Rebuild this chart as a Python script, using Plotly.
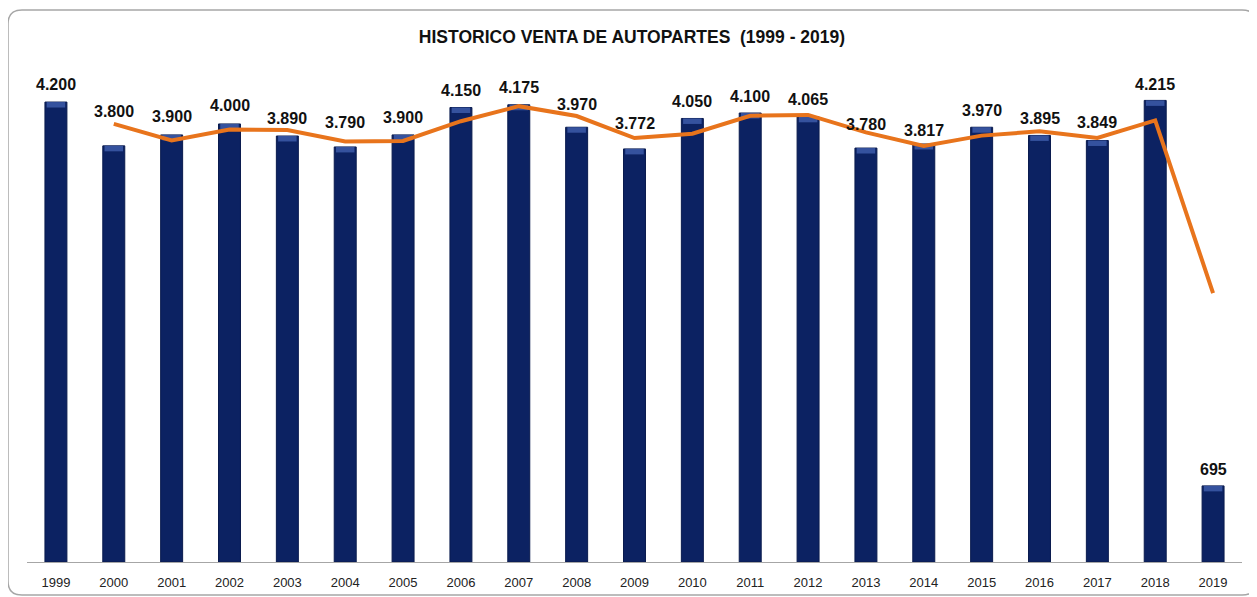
import plotly.graph_objects as go

years = ["1999", "2000", "2001", "2002", "2003", "2004", "2005", "2006", "2007", "2008",
         "2009", "2010", "2011", "2012", "2013", "2014", "2015", "2016", "2017", "2018", "2019"]
ventas = [4200, 3800, 3900, 4000, 3890, 3790, 3900, 4150, 4175, 3970,
          3772, 4050, 4100, 4065, 3780, 3817, 3970, 3895, 3849, 4215, 695]
# 2-period moving average trendline (as drawn in the chart), from 2000 on
trend_vals = [4000, 3850, 3950, 3945, 3840, 3845, 4025, 4162.5, 4072.5, 3871,
              3911, 4075, 4082.5, 3922.5, 3798.5, 3893.5, 3932.5, 3872, 4032, 2455]
label_text = ["4.200", "3.800", "3.900", "4.000", "3.890", "3.790", "3.900", "4.150", "4.175", "3.970",
              "3.772", "4.050", "4.100", "4.065", "3.780", "3.817", "3.970", "3.895", "3.849", "4.215", "695"]
label_shift = [18, 34, 18, 18, 18, 24, 17, 17, 17, 23, 25, 17, 17, 17, 24, 14, 17, 17, 18, 16, 16]

xpos = list(range(len(years)))
trend_x = xpos[1:]

BEVEL = 50  # height of the lighter top bevel, in data units

fig = go.Figure()
fig.add_trace(go.Bar(
    x=xpos, y=ventas, width=0.38,
    marker=dict(color="#0C2262", line=dict(color="#0A1B4E", width=1)),
    hovertext=years, showlegend=False,
))
fig.add_trace(go.Bar(
    x=xpos, y=[BEVEL] * len(ventas), base=[v - BEVEL for v in ventas], width=0.32,
    marker=dict(color="#35529E", line=dict(width=0)),
    hoverinfo="skip", showlegend=False,
))
fig.add_trace(go.Scatter(
    x=trend_x, y=trend_vals, mode="lines",
    line=dict(color="#E8741C", width=4), showlegend=False,
))

for xi, v, t, s in zip(xpos, ventas, label_text, label_shift):
    fig.add_annotation(x=xi, y=v, xref="x", yref="y", text="<b>%s</b>" % t, showarrow=False,
                       yshift=s, yanchor="middle",
                       font=dict(family="Liberation Sans, Arial", size=16, color="#111111"))

# page is offset by 8px (body margin); coordinates below compensate
W, H = 1257, 597
OFF = 8
l, r, t, b = 27 - OFF, 23, 60 - OFF, H - (562 - OFF)
pw, ph = W - l - r, H - t - b
def px(xp):
    return (xp - OFF - l) / pw
def py(yp):
    return 1 - (yp - OFF - t) / ph
x0, x1, y0, y1, rad = 8, 1256, 10, 595, 14
path = (f"M {px(x0+rad):.5f},{py(y0):.5f} L {px(x1-rad):.5f},{py(y0):.5f} Q {px(x1):.5f},{py(y0):.5f} {px(x1):.5f},{py(y0+rad):.5f} "
        f"L {px(x1):.5f},{py(y1-rad):.5f} Q {px(x1):.5f},{py(y1):.5f} {px(x1-rad):.5f},{py(y1):.5f} "
        f"L {px(x0+rad):.5f},{py(y1):.5f} Q {px(x0):.5f},{py(y1):.5f} {px(x0):.5f},{py(y1-rad):.5f} "
        f"L {px(x0):.5f},{py(y0+rad):.5f} Q {px(x0):.5f},{py(y0):.5f} {px(x0+rad):.5f},{py(y0):.5f} Z")
fig.add_shape(type="path", path=path, xref="paper", yref="paper",
              line=dict(color="#A6A6A6", width=1.5), layer="below")

fig.update_layout(
    width=W, height=H,
    margin=dict(l=l, r=r, t=t, b=b),
    paper_bgcolor="white", plot_bgcolor="white",
    barmode="overlay",
    title=dict(text="<b>HISTORICO VENTA DE AUTOPARTES  (1999 - 2019)</b>",
               x=(632 - OFF) / W, xref="container", xanchor="center",
               y=1 - (37 - OFF) / H, yref="container", yanchor="middle",
               font=dict(family="Liberation Sans, Arial", size=17.5, color="#111111")),
    xaxis=dict(type="linear", range=[-0.5, len(years) - 0.5], autorange=False,
               tickmode="array", tickvals=xpos, ticktext=years,
               showline=True, linecolor="#A6A6A6", linewidth=1,
               ticks="", showgrid=False, zeroline=False, ticklabelstandoff=8,
               tickfont=dict(family="Liberation Sans, Arial", size=13, color="#222222")),
    yaxis=dict(range=[0, 4584], autorange=False, visible=False, showgrid=False),
)

fig.write_html("out.html")
